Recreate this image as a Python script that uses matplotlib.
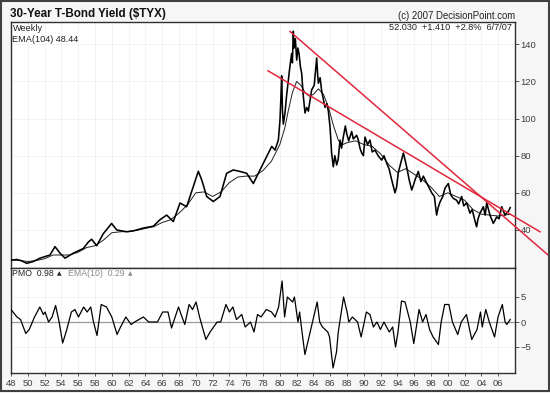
import matplotlib
matplotlib.use("Agg")
import matplotlib.pyplot as plt
from matplotlib.patches import Rectangle

plt.rcParams['font.family'] = ['Liberation Sans', 'DejaVu Sans']

# ---------------- data ----------------
price_years = [1948.08, 1948.67, 1949.27, 1949.87, 1950.66, 1951.45, 1952.64, 1953.24, 1953.83,
               1954.43, 1955.42, 1956.61, 1957.21, 1957.6, 1958.20, 1958.99, 1959.98, 1960.58,
               1961.77, 1962.56, 1963.75, 1964.94, 1965.74, 1966.53, 1967.32, 1968.12, 1968.91,
               1969.70, 1970.30, 1970.70, 1971.30, 1972.08, 1972.88, 1973.67, 1974.46, 1975.26,
               1976.06, 1976.85, 1977.64, 1978.44, 1979.04, 1979.43, 1979.83, 1980.02, 1980.12,
               1980.22, 1980.32, 1980.42, 1980.62, 1980.8, 1981.02, 1981.2, 1981.41, 1981.5,
               1981.61, 1981.7, 1981.85, 1982.01, 1982.15, 1982.29, 1982.45, 1982.60, 1982.8,
               1983.00, 1983.20, 1983.40, 1983.6, 1983.79, 1984.1, 1984.39, 1984.5, 1984.59,
               1984.8, 1984.98, 1985.2, 1985.38, 1985.6, 1985.78, 1985.98, 1986.17, 1986.37,
               1986.55, 1986.77, 1986.95, 1987.17, 1987.35, 1987.56, 1987.8, 1987.96, 1988.2,
               1988.56, 1988.75, 1988.95, 1989.15, 1989.35, 1989.55, 1989.75, 1989.95, 1990.14,
               1990.45, 1990.74, 1991.0, 1991.33, 1991.7, 1992.13, 1992.4, 1992.72, 1993.0,
               1993.32, 1993.71, 1993.9, 1994.11, 1994.4, 1994.71, 1994.9, 1995.10, 1995.4,
               1995.70, 1995.9, 1996.10, 1996.49, 1996.8, 1997.09, 1997.4, 1997.68, 1998.08,
               1998.4, 1998.67, 1998.85, 1999.07, 1999.4, 1999.67, 2000.06, 2000.35, 2000.65,
               2001.05, 2001.3, 2001.65, 2001.9, 2002.24, 2002.64, 2002.9, 2003.23, 2003.43,
               2003.6, 2003.83, 2004.23, 2004.45, 2004.63, 2005.02, 2005.2, 2005.42, 2005.82,
               2006.1, 2006.41, 2006.81, 2007.0, 2007.21, 2007.43]
price_values = [23.7, 24.1, 23.4, 22.0, 23.0, 24.8, 26.5, 31.0, 27.5,
                24.8, 27.5, 30.0, 33.5, 35.0, 31.5, 38.0, 43.5, 40.0,
                39.0, 39.5, 41.0, 42.0, 45.5, 48.0, 44.5, 54.5, 52.5,
                63.3, 71.6, 67.0, 58.0, 55.3, 58.0, 70.5, 72.3, 71.5,
                70.5, 65.0, 72.3, 79.5, 85.0, 83.0, 88.5, 99.0, 110.0,
                123.0, 104.0, 97.0, 103.0, 112.0, 121.0, 128.0, 135.0, 130.0,
                147.0, 138.0, 143.0, 131.5, 138.0, 135.0, 128.0, 124.5, 112.0,
                103.0, 106.0, 104.0, 110.0, 115.4, 118.0, 132.6, 124.0, 119.0,
                122.0, 115.0, 110.0, 106.0, 108.0, 104.0, 95.4, 81.4, 74.0,
                80.0, 75.0, 78.0, 88.4, 84.0, 90.0, 96.0, 92.0, 88.0,
                93.0, 89.0, 90.0, 91.0, 88.4, 84.0, 81.4, 80.0, 90.0,
                86.0, 88.4, 82.0, 83.0, 80.0, 77.6, 80.0, 76.0, 73.0,
                67.0, 60.0, 63.0, 71.0, 76.0, 81.4, 78.0, 74.0, 67.0,
                61.5, 64.0, 67.0, 71.5, 66.0, 69.0, 66.0, 63.6, 60.0,
                58.0, 48.0, 52.0, 55.0, 58.0, 62.5, 65.0, 59.0, 57.0,
                56.0, 54.0, 58.0, 53.0, 54.6, 49.0, 51.0, 45.0, 41.7,
                46.0, 49.0, 52.5, 48.0, 54.6, 48.0, 46.0, 43.5, 47.0,
                46.0, 52.5, 48.0, 49.0, 50.0, 52.03]

ema_years = [1948.0, 1949, 1950, 1951, 1952, 1953, 1954, 1955, 1956, 1957, 1958, 1959,
             1960, 1961, 1962, 1963, 1964, 1965, 1966, 1967, 1968, 1969, 1970, 1971,
             1972, 1973, 1974, 1975, 1976, 1977, 1978, 1979, 1980.0, 1980.6, 1981.0,
             1981.5, 1982.0, 1982.5, 1983.0, 1983.5, 1984.0, 1984.6, 1985.2, 1985.8,
             1986.4, 1987.0, 1987.5, 1988, 1989, 1990, 1991, 1992, 1993, 1994, 1995,
             1996, 1997, 1998, 1999, 2000, 2001, 2002, 2003, 2004, 2005, 2006, 2007.43]
ema_values = [24.0, 23.5, 23.0, 23.5, 24.5, 26.5, 26.5, 26.5, 28.0, 30.5, 31.5, 34.5,
              38.5, 39.0, 39.2, 39.8, 40.8, 41.8, 44.0, 45.5, 49.0, 53.5, 60.0, 60.5,
              58.0, 60.5, 65.5, 68.5, 69.0, 69.0, 72.0, 77.0, 86.0, 95.0, 104.0,
              114.0, 120.0, 118.0, 114.0, 112.0, 113.0, 116.0, 113.0, 106.0,
              96.0, 88.0, 86.0, 87.0, 88.0, 86.0, 85.0, 81.0, 75.0, 71.0, 73.0,
              70.0, 67.0, 63.0, 58.0, 60.0, 58.0, 56.0, 51.0, 48.5, 48.0, 47.5, 48.44]

pmo_years = [1948.00, 1948.71, 1949.13, 1949.76, 1950.17, 1950.80, 1951.43, 1951.85, 1952.06,
             1952.47, 1952.89, 1953.31, 1953.73, 1954.15, 1954.56, 1955.19, 1955.61, 1956.03,
             1956.65, 1957.07, 1957.49, 1957.82, 1958.24, 1958.74, 1959.37, 1960.00, 1960.63,
             1961.04, 1961.67, 1962.30, 1962.72, 1963.76, 1964.39, 1965.43, 1966.06, 1966.69,
             1967.11, 1967.94, 1968.36, 1968.69, 1969.20, 1969.61, 1970.03, 1970.45, 1971.20,
             1971.70, 1972.12, 1972.54, 1972.96, 1973.59, 1974.00, 1974.42, 1974.84, 1975.47,
             1975.88, 1976.51, 1976.93, 1977.35, 1977.77, 1978.39, 1979.02, 1979.44, 1979.86,
             1980.27, 1980.57, 1980.90, 1981.53, 1981.74, 1982.16, 1982.36, 1982.57, 1982.99,
             1983.62, 1984.04, 1984.45, 1984.75, 1985.08, 1985.71, 1985.92, 1986.34, 1986.75,
             1986.96, 1987.59, 1988.01, 1988.22, 1988.64, 1989.26, 1989.68, 1990.31, 1990.73,
             1991.14, 1991.56, 1991.98, 1992.40, 1993.03, 1993.44, 1993.78, 1994.07, 1994.49,
             1994.91, 1995.53, 1995.95, 1996.58, 1997.00, 1997.41, 1997.83, 1998.25, 1998.88,
             1999.21, 1999.63, 2000.13, 2000.55, 2001.18, 2001.60, 2002.22, 2002.85, 2003.48,
             2003.89, 2004.10, 2004.52, 2004.94, 2005.15, 2005.57, 2005.98, 2006.49, 2006.82,
             2007.03, 2007.43]
pmo_values = [2.5, 1.0, 0.5, -2.3, -1.5, 1.0, 3.0, 1.5, 2.0,
              0.0, 1.0, 3.3, 0.0, -4.2, -2.0, 2.0, 2.5, 1.0,
              3.0, 2.0, 3.0, 0.0, -2.7, 3.5, 3.0, 1.0, -2.5,
              -1.0, 1.0, -0.5, 0.0, 1.0, 0.0, 0.0, 2.0, 2.0,
              -1.2, 3.0, 1.0, -0.5, 3.5, 2.5, 4.0, 1.0, -3.5,
              -2.0, -1.0, 0.0, 0.0, 3.5, 2.0, 3.0, 0.5, 1.5,
              -1.0, 0.0, -2.0, 1.5, 1.0, 2.5, 2.0, 1.0, 3.0,
              8.2, 1.0, 5.0, 4.0, 5.0, 0.0, 2.0, -1.0, -6.5,
              -2.0, 1.0, 4.0, 0.0, -1.0, -2.0, -3.0, -9.2, -6.0,
              -2.0, 5.0, 2.0, 0.0, 1.0, 0.0, -3.0, 2.0, 1.5,
              -1.0, 0.0, -1.5, 0.0, -2.0, -1.0, -5.0, -2.0, 4.2,
              4.0, 0.0, -4.3, 2.5, 0.0, 1.5, -1.5, -3.0, -4.5,
              0.0, 3.5, 3.5, 0.0, -2.5, 0.0, 1.5, -3.5, -1.5,
              2.0, -1.0, 2.5, 0.0, -1.0, -3.0, 1.0, 3.5, 0.0,
              -0.5, 0.5]

# red trend lines (year, value) endpoints
trend1_years = [1981.21, 2012.17]
trend1_values = [146.9, 25.6]
trend2_years = [1978.60, 2010.98]
trend2_values = [125.7, 39.0]

year_ticks = list(range(1948, 2007, 2))
year_labels = ["%02d" % (y % 100) for y in year_ticks]
price_ticks = [40, 60, 80, 100, 120, 140]
pmo_ticks = [-5, 0, 5]

# ---------------- figure ----------------
W, H = 550, 393
fig = plt.figure(figsize=(W / 100, H / 100), dpi=100, facecolor='#f6f6f6')
fig.patches.append(Rectangle((0.002, 0.004), 0.996, 0.994, transform=fig.transFigure,
                             fill=False, edgecolor='#404040', lw=1.5))

L, R = 11, 515
ax1 = fig.add_axes([L / W, 1 - 268 / H, (R - L) / W, 246 / H])
ax2 = fig.add_axes([L / W, 1 - 373 / H, (R - L) / W, 105 / H], sharex=ax1)

tick_color = '#404040'
for ax in (ax1, ax2):
    ax.set_facecolor('white')
    for s in ax.spines.values():
        s.set_color('#303030')
        s.set_linewidth(1.0)
    ax.yaxis.tick_right()
    ax.tick_params(axis='y', which='both', direction='out', length=3, width=0.6,
                   colors=tick_color, labelsize=6.8, pad=1)
    ax.grid(True, color='#eeeeee', lw=0.5)
    ax.set_axisbelow(True)

ax1.plot(price_years, price_values, color='black', lw=1.15, zorder=3)
ax1.plot(ema_years, ema_values, color='#202020', lw=0.7, zorder=2)
ax1.plot(trend1_years, trend1_values, color='#e0283c', lw=1.1, clip_on=False, zorder=4)
ax1.plot(trend2_years, trend2_values, color='#e0283c', lw=1.1, clip_on=False, zorder=4)
ax1.set_xlim(1948, 2008)
ax1.set_ylim(19.5, 152)
ax1.set_yticks(price_ticks)
ax1.tick_params(axis='x', which='both', length=0, labelbottom=False)

ax2.axhline(0, color='#9a9a9a', lw=0.9, zorder=1)
ax2.plot(pmo_years, pmo_values, color='black', lw=0.9, zorder=3)
ax2.set_ylim(-10.2, 10.8)
ax2.set_yticks(pmo_ticks)
ax2.set_xticks(year_ticks)
ax2.set_xticklabels(year_labels)
ax2.tick_params(axis='x', direction='out', length=2, width=0.6, colors=tick_color,
                labelsize=6.8, pad=2)

# texts
fig.text(10 / W, 1 - 14.5 / H, "30-Year T-Bond Yield ($TYX)", fontsize=8.4, fontweight='bold',
         ha='left', va='center', color='#111111')
fig.text(515 / W, 1 - 16 / H, "(c) 2007 DecisionPoint.com", fontsize=6.9,
         ha='right', va='center', color='#222222')
fig.text(512 / W, 1 - 27 / H, "52.030  +1.410  +2.8%  6/7/07", fontsize=6.6,
         ha='right', va='center', color='#222222')
fig.text(12.5 / W, 1 - 28.5 / H, "Weekly", fontsize=6.6, ha='left', va='center', color='#222222')
fig.text(12.5 / W, 1 - 39 / H, "EMA(104) 48.44", fontsize=6.6, ha='left', va='center', color='#222222')

t1 = fig.text(12.5 / W, 1 - 274 / H, "PMO  0.98", fontsize=6.3, ha='left', va='center',
              color='#222222')
a1 = fig.text(0, 0, "▲", fontsize=4.2, ha='left', va='center', color='#222222',
              family=['DejaVu Sans'])
a1.set_position((0, 0))
ar1 = fig.add_artist(plt.Annotation("▲", xy=(1, 0.5), xycoords=t1, xytext=(2, 0),
                                    textcoords='offset points', fontsize=4.2, ha='left',
                                    va='center', color='#222222', family=['DejaVu Sans']))
a1.remove()
t2 = fig.add_artist(plt.Annotation("EMA(10)  0.29", xy=(1, 0.5), xycoords=ar1, xytext=(5, 0),
                                   textcoords='offset points', fontsize=6.3, ha='left',
                                   va='center', color='#8a8a8a'))
fig.add_artist(plt.Annotation("▲", xy=(1, 0.5), xycoords=t2, xytext=(2, 0),
                              textcoords='offset points', fontsize=4.2, ha='left',
                              va='center', color='#8a8a8a', family=['DejaVu Sans']))

fig.savefig("out.png", dpi=100, facecolor=fig.get_facecolor())
